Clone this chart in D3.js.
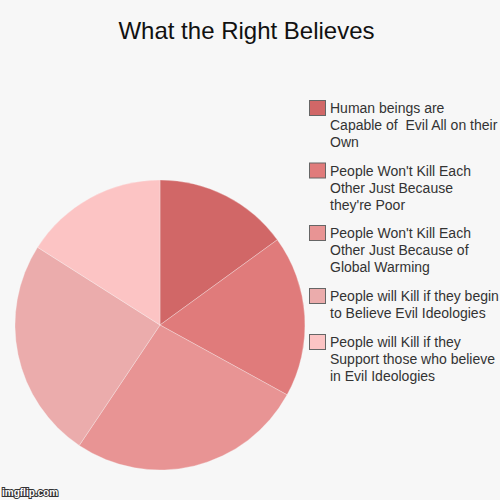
<!DOCTYPE html>
<html><head><meta charset="utf-8">
<script src="https://cdn.jsdelivr.net/npm/d3@7"></script>
<style>html,body{margin:0;padding:0;background:#f7f7f7;overflow:hidden;}</style>
</head><body>
<svg id="chart" width="500" height="500"></svg>
<script>
const title = "What the Right Believes";
const categories = [
  "Human beings are Capable of  Evil All on their Own",
  "People Won't Kill Each Other Just Because they're Poor",
  "People Won't Kill Each Other Just Because of Global Warming",
  "People will Kill if they begin to Believe Evil Ideologies",
  "People will Kill if they Support those who believe in Evil Ideologies"
];
const legendLines = [
  ["Human beings are", "Capable of  Evil All on their", "Own"],
  ["People Won't Kill Each", "Other Just Because", "they're Poor"],
  ["People Won't Kill Each", "Other Just Because of", "Global Warming"],
  ["People will Kill if they begin", "to Believe Evil Ideologies"],
  ["People will Kill if they", "Support those who believe", "in Evil Ideologies"]
];
const values = [15, 18, 26.4, 24.6, 16];
const colors = ["#d16767", "#e07b7b", "#e89494", "#ebacac", "#fcc4c4"];

const svg = d3.select("#chart");
svg.append("rect").attr("width", 500).attr("height", 500).attr("fill", "#f7f7f7");

svg.append("text").attr("x", 246.5).attr("y", 39).attr("text-anchor", "middle")
  .style("font-family", "Liberation Sans, Arial, sans-serif").style("font-size", "24px")
  .attr("fill", "#111").text(title);

const cx = 160, cy = 325, r = 145;
const pie = d3.pie().sort(null).value(d => d)(values);
const arc = d3.arc().innerRadius(0).outerRadius(r);
const color = d3.scaleOrdinal().domain(d3.range(values.length)).range(colors);
const g = svg.append("g").attr("transform", `translate(${cx},${cy})`);
g.selectAll("path").data(pie).join("path")
  .attr("d", arc).attr("fill", (d, i) => color(i))
  .attr("stroke", "#f7f7f7").attr("stroke-width", 0.3);

const legendTops = [100, 162.5, 225, 288, 334];
const lg = svg.append("g");
categories.forEach((c, i) => {
  const y0 = legendTops[i];
  lg.append("rect").attr("x", 309.5).attr("y", y0 + 0.5).attr("width", 16).attr("height", 15)
    .attr("fill", color(i)).attr("stroke", "#666").attr("stroke-width", 1);
  const t = lg.append("text").attr("x", 330).attr("y", y0 + 13)
    .style("font-family", "Liberation Sans, Arial, sans-serif").style("font-size", "14px")
    .style("white-space", "pre").attr("fill", "#333");
  legendLines[i].forEach((ln, j) => {
    t.append("tspan").attr("x", 330).attr("dy", j === 0 ? 0 : 17).text(ln);
  });
});

svg.append("text").attr("x", 2).attr("y", 496)
  .style("font-family", "Liberation Sans, Arial, sans-serif").style("font-size", "10px").style("font-weight", "bold")
  .attr("fill", "#fff").attr("stroke", "#333").attr("stroke-width", 2).attr("paint-order", "stroke")
  .text("imgflip.com");
</script>
</body></html>
